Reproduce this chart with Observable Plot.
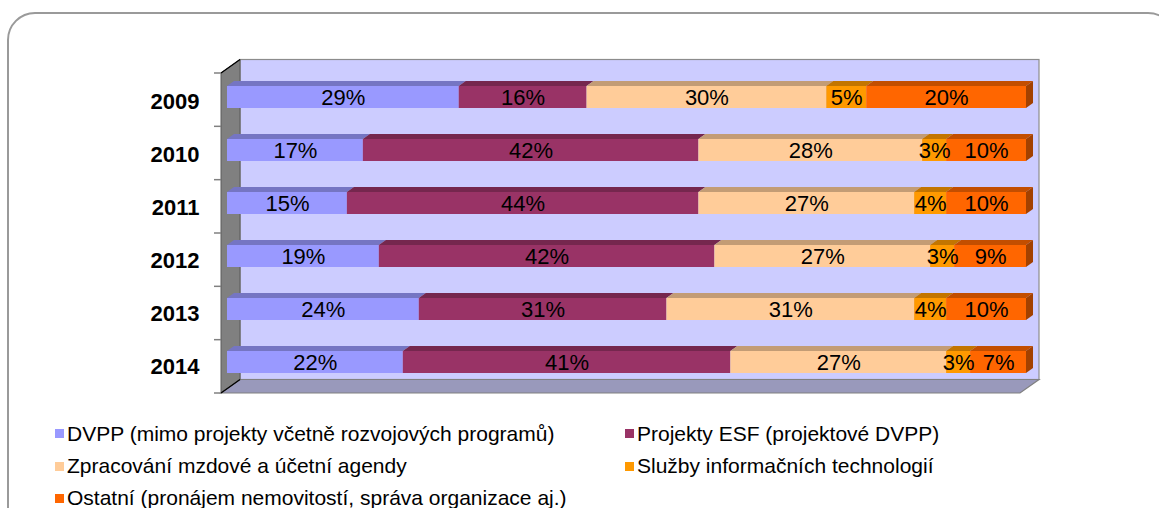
<!DOCTYPE html>
<html><head><meta charset="utf-8">
<script src="https://cdn.jsdelivr.net/npm/d3@7"></script>
<script src="https://cdn.jsdelivr.net/npm/@observablehq/plot@0.6"></script>
<style>
html,body{margin:0;padding:0;background:#fff;}
#wrap{position:relative;width:1159px;height:508px;overflow:hidden;font-family:"Liberation Sans",Arial,sans-serif;}
#frame{position:absolute;left:7px;top:12px;width:1169px;height:600px;border:2px solid #9a9a9a;border-radius:28px;box-sizing:border-box;}
#chart{position:absolute;left:0;top:0;}
#legend{position:absolute;left:0;top:0;width:1159px;height:508px;}
.item{position:absolute;display:flex;align-items:center;height:24px;line-height:24px;font-size:21px;color:#000;white-space:nowrap;}
.sw{width:9px;height:9px;margin-right:3px;flex:none;}
</style></head><body>
<div id="wrap"><div id="frame"></div><div id="chart"></div><div id="legend"></div></div>
<script>
// ---- data ----
const years = ["2009", "2010", "2011", "2012", "2013", "2014"];
const seriesNames = [
  "DVPP (mimo projekty včetně rozvojových programů)",
  "Projekty ESF (projektové DVPP)",
  "Zpracování mzdové a účetní agendy",
  "Služby informačních technologií",
  "Ostatní (pronájem nemovitostí, správa organizace aj.)"
];
const seriesColors = ["#9999FF", "#993366", "#FFCC99", "#FF9900", "#FF6600"];
const dvpp    = [29, 17, 15, 19, 24, 22];
const esf     = [16, 42, 44, 42, 31, 41];
const mzdy    = [30, 28, 27, 27, 31, 27];
const it      = [5, 3, 4, 3, 4, 3];
const ostatni = [20, 10, 10, 9, 10, 7];
const seriesValues = [dvpp, esf, mzdy, it, ostatni];

const table = [];
years.forEach((y, i) => seriesNames.forEach((s, j) => table.push({year: y, series: s, value: seriesValues[j][i]})));

// ---- geometry constants (pixels) ----
const W = 1159, H = 400;
const wallDepth = [19, -13.5];
const barOff = [6, -4];
const barDepth = [7, -5];
const padInner = 0.5875, padOuter = padInner / 2;

function backdrop(index, scales, values, dims) {
  const x0 = dims.marginLeft, x1 = dims.width - dims.marginRight;
  const top = dims.marginTop, bottom = dims.height - dims.marginBottom;
  const [dx, dy] = wallDepth;
  const g = d3.create("svg:g");
  const pts = a => a.map(p => p.join(",")).join(" ");
  g.append("rect").attr("x", x0 + dx).attr("y", top + dy).attr("width", x1 - x0).attr("height", bottom - top)
    .attr("fill", "#CCCCFF").attr("stroke", "#8c8c8c").attr("stroke-width", 1.2);
  g.append("polygon").attr("points", pts([[x0, bottom], [x0 + dx, bottom + dy], [x1 + dx, bottom + dy], [x1, bottom]]))
    .attr("fill", "#9999BB").attr("stroke", "#808080").attr("stroke-width", 1.2);
  g.append("polygon").attr("points", pts([[x0, top], [x0 + dx, top + dy], [x0 + dx, bottom + dy], [x0, bottom]]))
    .attr("fill", "#808080").attr("stroke", "#5a5a5a").attr("stroke-width", 1);
  g.append("line").attr("x1", x0).attr("y1", top).attr("x2", x0 + dx).attr("y2", top + dy).attr("stroke", "#000").attr("stroke-width", 1.3);
  g.append("line").attr("x1", x0).attr("y1", bottom).attr("x2", x0 + dx).attr("y2", bottom + dy).attr("stroke", "#000").attr("stroke-width", 1.3);
  const step = (bottom - top) / years.length;
  for (let i = 0; i <= years.length; i++) {
    const y = top + i * step;
    g.append("line").attr("x1", x0 - 7).attr("x2", x0).attr("y1", y).attr("y2", y).attr("stroke", "#808080").attr("stroke-width", 1.5);
  }
  return g.node();
}

function faces(index, scales, values, dims) {
  const top = dims.marginTop, bottom = dims.height - dims.marginBottom;
  const step = (bottom - top) / years.length;
  const bw = step * (1 - padInner);
  const g = d3.create("svg:g");
  const pts = a => a.map(p => p.join(",")).join(" ");
  const [ddx, ddy] = barDepth;
  years.forEach((yr, i) => {
    const yt = scales.y(yr) + barOff[1];
    let cum = 0;
    seriesNames.forEach((s, j) => {
      const v = seriesValues[j][i];
      const xa = scales.x(cum) + barOff[0], xb = scales.x(cum + v) + barOff[0];
      cum += v;
      const c = d3.rgb(seriesColors[j]);
      g.append("polygon").attr("points", pts([[xa, yt], [xb, yt], [xb + ddx, yt + ddy], [xa + ddx, yt + ddy]]))
        .attr("fill", c.darker(0.75).formatHex());
      if (j === seriesNames.length - 1) {
        g.append("polygon").attr("points", pts([[xb, yt], [xb + ddx, yt + ddy], [xb + ddx, yt + bw + ddy], [xb, yt + bw]]))
          .attr("fill", c.darker(1.25).formatHex());
      }
    });
  });
  return g.node();
}

const chart = Plot.plot({
  width: W, height: H,
  marginLeft: 221, marginRight: 139, marginTop: 73, marginBottom: 7,
  style: {fontFamily: "'Liberation Sans', Arial, sans-serif", background: "transparent", color: "#000", overflow: "visible"},
  x: {domain: [0, 100], axis: null},
  y: {domain: years, paddingInner: padInner, paddingOuter: padOuter, axis: null},
  color: {domain: seriesNames, range: seriesColors},
  marks: [
    backdrop,
    Plot.axisY({tickSize: 0, tickPadding: 22, fontSize: 22, fontWeight: "bold", fill: "#000", label: null}),
    faces,
    Plot.barX(table, {x: "value", y: "year", fill: "series", dx: barOff[0], dy: barOff[1]}),
    Plot.text(table, Plot.stackX({x: "value", y: "year", z: "series", text: d => d.value + "%",
      dx: barOff[0], dy: barOff[1], fontSize: 22, fill: "#000"}))
  ]
});
document.getElementById("chart").appendChild(chart);

// ---- legend ----
const legend = document.getElementById("legend");
const colX = [55, 625];
const rowTop = [421.75, 454, 486];
seriesNames.forEach((s, i) => {
  const it = document.createElement("div");
  it.className = "item";
  it.style.left = colX[i % 2] + "px";
  it.style.top = rowTop[Math.floor(i / 2)] + "px";
  const sw = document.createElement("span");
  sw.className = "sw";
  sw.style.background = seriesColors[i];
  const tx = document.createElement("span");
  tx.textContent = s;
  it.appendChild(sw); it.appendChild(tx);
  legend.appendChild(it);
});
</script>
</body></html>
